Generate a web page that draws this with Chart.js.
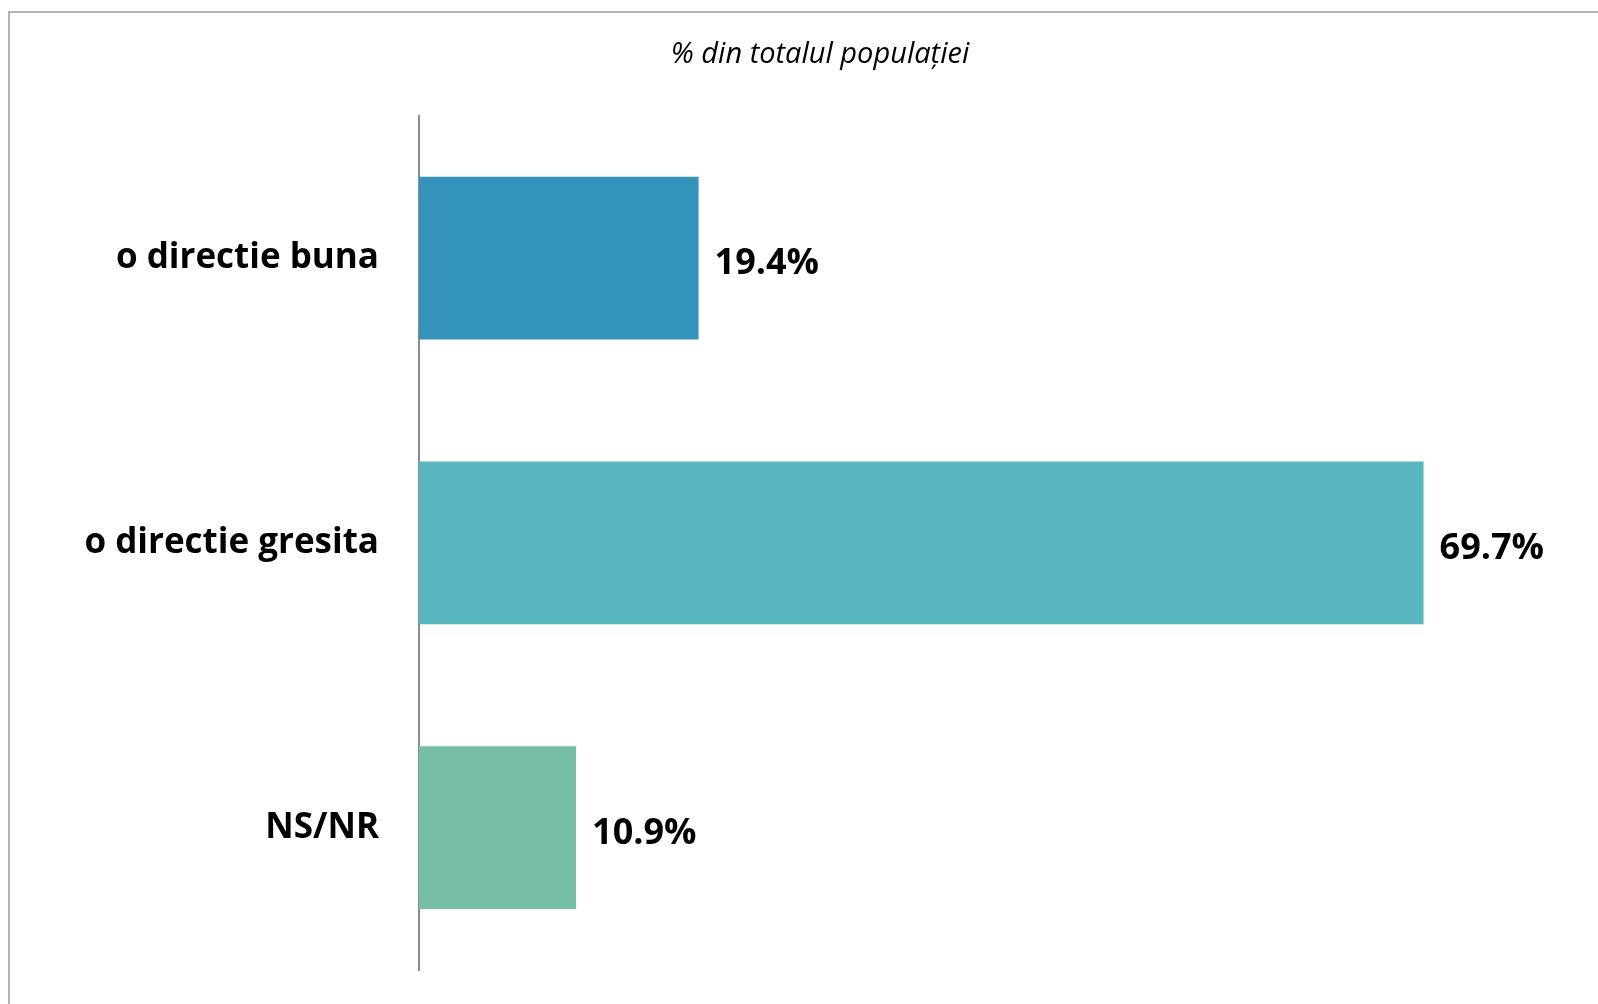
<!DOCTYPE html>
<html>
<head>
<meta charset="utf-8">
<script src="https://cdn.jsdelivr.net/npm/chart.js@4.4.0/dist/chart.umd.min.js"></script>
<style>
  html, body { margin: 0; padding: 0; background: #fff; overflow: hidden; }
  body { width: 1598px; height: 1004px; position: relative; }
  #box {
    position: absolute; left: 8px; top: 11px;
    width: 1620px; height: 1018px;
    border: 2px solid #b3b3b3;
  }
  #myChart { display: block; }
</style>
</head>
<body>
<div id="box"><canvas id="myChart" width="1620" height="1018"></canvas></div>
<script>
'use strict';

const categories = ['o directie buna', 'o directie gresita', 'NS/NR'];
const values = [19.4, 69.7, 10.9];
const barColors = ['#3594bb', '#59b5bf', '#76bea6'];
const chartTitle = '% din totalul populației';

// draws the value labels next to each bar
const valueLabels = {
  id: 'valueLabels',
  afterDatasetsDraw(chart) {
    const c = chart.ctx;
    const meta = chart.getDatasetMeta(0);
    c.save();
    c.font = 'bold 36px "Open Sans"';
    c.fillStyle = '#000';
    c.textAlign = 'left';
    c.textBaseline = 'middle';
    meta.data.forEach((bar, i) => {
      c.fillText(values[i].toFixed(1) + '%', bar.x + 16, bar.y + 6);
    });
    c.restore();
  }
};

const ctx = document.getElementById('myChart');

// note: y tick padding (40) + half a label also sets the bottom gap (~61px)
new Chart(ctx, {
  type: 'bar',
  data: {
    labels: categories,
    datasets: [{
      data: values,
      backgroundColor: barColors,
      borderWidth: 0,
      barPercentage: 0.572,
      categoryPercentage: 1
    }]
  },
  options: {
    indexAxis: 'y',
    responsive: false,
    animation: false,
    layout: {
      padding: { left: 58, right: 58, top: 0, bottom: 0 }
    },
    plugins: {
      legend: { display: false },
      tooltip: { enabled: false },
      title: {
        display: true,
        text: chartTitle,
        color: '#000',
        font: { family: 'Open Sans', size: 29, style: 'italic', weight: 'normal' },
        padding: { top: 24, bottom: 44 }
      }
    },
    scales: {
      x: {
        display: false,
        min: 0,
        max: 80
      },
      y: {
        grid: { display: false, drawTicks: false },
        border: { display: true, color: '#8c8c8c', width: 2 },
        ticks: {
          color: '#000',
          padding: 40,
          font: { family: 'Open Sans', size: 35, weight: 'bold' }
        },
        afterFit(scale) {
          scale.width = 351;
        }
      }
    }
  },
  plugins: [valueLabels]
});
</script>
</body>
</html>
